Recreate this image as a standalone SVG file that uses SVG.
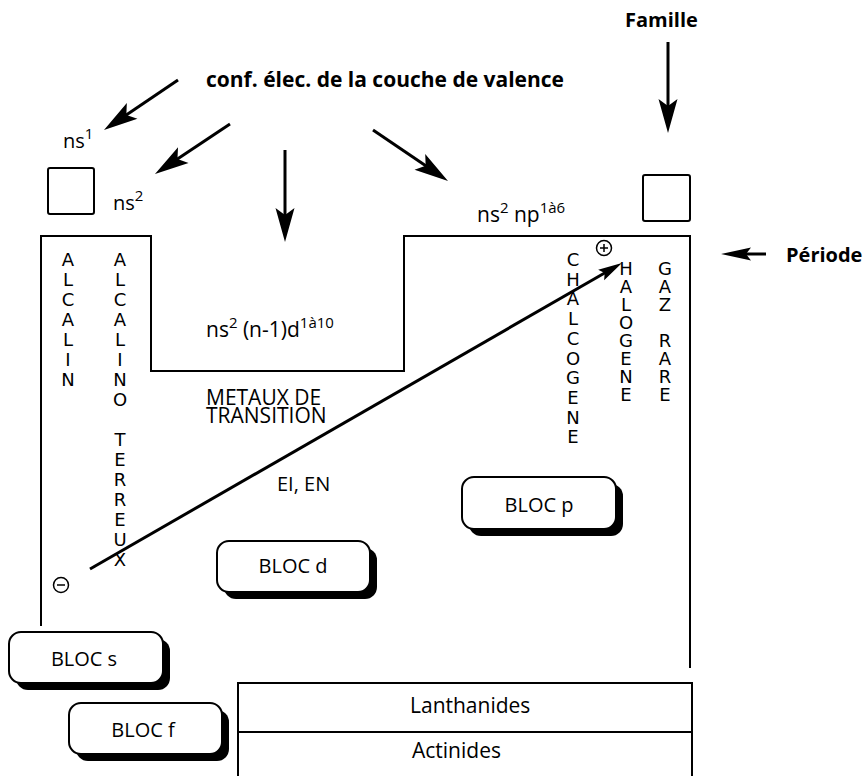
<svg xmlns="http://www.w3.org/2000/svg" width="865" height="776" viewBox="0 0 865 776">
<style>
.t{font-family:"Open Sans","Liberation Sans",sans-serif;font-size:20px;fill:#000}
.b{font-weight:bold}
.v{font-family:"DejaVu Sans",sans-serif;font-size:18px;fill:#000;text-anchor:middle}
.ln{fill:none;stroke:#000;stroke-width:2}
.ar{fill:none;stroke:#000;stroke-width:3}
.box{fill:#fff;stroke:#000;stroke-width:2}
.sh{fill:#000}
.sup{font-size:15px}
.big{font-size:21px}
.c{text-anchor:middle}
</style>
<defs>
<marker id="ah" markerUnits="userSpaceOnUse" viewBox="-14 -11 40 22" markerWidth="40" markerHeight="22" refX="0" refY="0" orient="auto">
<path d="M22,0 L-12,-9.5 L-5,0 L-12,9.5 Z" fill="#000"/>
</marker>
<marker id="ahs" markerUnits="userSpaceOnUse" viewBox="-12 -10 36 20" markerWidth="36" markerHeight="20" refX="0" refY="0" orient="auto">
<path d="M22,0 L-8,-6.5 L-3,0 L-8,6.5 Z" fill="#000"/>
</marker>
<marker id="ahd" markerUnits="userSpaceOnUse" viewBox="-10 -8 28 16" markerWidth="28" markerHeight="16" refX="0" refY="0" orient="auto">
<path d="M16,0 L-8,-6 L-4,0 L-8,6 Z" fill="#000"/>
</marker>
</defs>
<rect width="865" height="776" fill="#fff"/>

<g id="table">
<path class="ln" d="M41,626 L41,236 L151,236 L151,371 L404,371 L404,236 L690,236 L690,668"/>
</g>

<g id="square-left"><rect class="ln" x="48" y="168" width="46" height="46" rx="2"/></g>
<g id="square-right"><rect class="ln" x="643" y="175" width="47" height="46" rx="2"/></g>

<g id="title"><text class="t b big" x="206" y="87">conf. élec. de la couche de valence</text></g>
<g id="famille"><text class="t b" x="625" y="27">Famille</text></g>
<g id="periode"><text class="t b" x="786" y="262">Période</text></g>

<g id="ns1"><text class="t" x="63" y="148">ns<tspan class="sup" dy="-9">1</tspan></text></g>
<g id="ns2"><text class="t" x="113" y="210">ns<tspan class="sup" dy="-9">2</tspan></text></g>
<g id="nsnp"><text class="t big" x="477" y="222">ns<tspan class="sup" dy="-9">2</tspan><tspan dy="9"> np</tspan><tspan class="sup" dy="-9">1à6</tspan></text></g>
<g id="nsd"><text class="t big" x="206" y="337">ns<tspan class="sup" dy="-9">2</tspan><tspan dy="9"> (n-1)d</tspan><tspan class="sup" dy="-9">1à10</tspan></text></g>

<g id="alcalin"><text class="v" x="68" y="266"><tspan x="68">A</tspan><tspan x="68" dy="20">L</tspan><tspan x="68" dy="20">C</tspan><tspan x="68" dy="20">A</tspan><tspan x="68" dy="20">L</tspan><tspan x="68" dy="20">I</tspan><tspan x="68" dy="20">N</tspan></text></g>
<g id="alcalino-terreux"><text class="v" x="120" y="266"><tspan x="120">A</tspan><tspan x="120" dy="20">L</tspan><tspan x="120" dy="20">C</tspan><tspan x="120" dy="20">A</tspan><tspan x="120" dy="20">L</tspan><tspan x="120" dy="20">I</tspan><tspan x="120" dy="20">N</tspan><tspan x="120" dy="20">O</tspan><tspan x="120" dy="40">T</tspan><tspan x="120" dy="20">E</tspan><tspan x="120" dy="20">R</tspan><tspan x="120" dy="20">R</tspan><tspan x="120" dy="20">E</tspan><tspan x="120" dy="20">U</tspan><tspan x="120" dy="20">X</tspan></text></g>
<g id="chalcogene"><text class="v" x="573" y="266"><tspan x="573">C</tspan><tspan x="573" dy="19.7">H</tspan><tspan x="573" dy="19.7">A</tspan><tspan x="573" dy="19.7">L</tspan><tspan x="573" dy="19.7">C</tspan><tspan x="573" dy="19.7">O</tspan><tspan x="573" dy="19.7">G</tspan><tspan x="573" dy="19.7">E</tspan><tspan x="573" dy="19.7">N</tspan><tspan x="573" dy="19.7">E</tspan></text></g>
<g id="halogene"><text class="v" x="626" y="275"><tspan x="626">H</tspan><tspan x="626" dy="18">A</tspan><tspan x="626" dy="18">L</tspan><tspan x="626" dy="18">O</tspan><tspan x="626" dy="18">G</tspan><tspan x="626" dy="18">E</tspan><tspan x="626" dy="18">N</tspan><tspan x="626" dy="18">E</tspan></text></g>
<g id="gaz-rare"><text class="v" x="665" y="275"><tspan x="665">G</tspan><tspan x="665" dy="18">A</tspan><tspan x="665" dy="18">Z</tspan><tspan x="665" dy="36">R</tspan><tspan x="665" dy="18">A</tspan><tspan x="665" dy="18">R</tspan><tspan x="665" dy="18">E</tspan></text></g>

<g id="metaux"><text class="t big" x="206" y="405">METAUX DE</text><text class="t big" x="206" y="423">TRANSITION</text></g>
<g id="ei-en"><text class="t" x="277" y="491">EI, EN</text></g>

<g id="plus"><circle cx="604" cy="248" r="7.5" fill="#fff" stroke="#000" stroke-width="1.5"/><path d="M600,248 H608 M604,244 V252" stroke="#000" stroke-width="1.5"/></g>
<g id="minus"><circle cx="61" cy="585" r="7.5" fill="#fff" stroke="#000" stroke-width="1.5"/><path d="M57,585 H65" stroke="#000" stroke-width="1.5"/></g>

<g id="connectors">
<line class="ar" x1="178" y1="80" x2="122.2" y2="117.7" marker-end="url(#ah)"/>
<line class="ar" x1="230" y1="124" x2="173.3" y2="161.8" marker-end="url(#ah)"/>
<line class="ar" x1="285" y1="150" x2="285" y2="220" marker-end="url(#ah)"/>
<line class="ar" x1="373" y1="130" x2="429.8" y2="168.6" marker-end="url(#ah)"/>
<line class="ar" x1="668" y1="42" x2="668" y2="111" marker-end="url(#ah)"/>
<line class="ar" x1="766" y1="254" x2="743" y2="254" marker-end="url(#ahs)"/>
<line class="ar" x1="90" y1="569" x2="608.1" y2="271" marker-end="url(#ahd)"/>
</g>

<g id="bloc-d"><rect class="sh" x="224" y="548" width="153" height="51" rx="12"/><rect class="box" x="217" y="541" width="153" height="51" rx="12"/><text class="t c" x="293" y="573">BLOC d</text></g>
<g id="bloc-p"><rect class="sh" x="469" y="484" width="154" height="52" rx="12"/><rect class="box" x="462" y="477" width="154" height="52" rx="12"/><text class="t c" x="539" y="512">BLOC p</text></g>
<g id="bloc-s"><rect class="sh" x="16" y="639" width="154" height="51" rx="12"/><rect class="box" x="9" y="632" width="154" height="51" rx="12"/><text class="t c" x="84" y="666">BLOC s</text></g>
<g id="bloc-f"><rect class="sh" x="76" y="710" width="153" height="51" rx="12"/><rect class="box" x="69" y="703" width="153" height="51" rx="12"/><text class="t c" x="143" y="737">BLOC f</text></g>

<g id="lanthanides-actinides">
<path class="ln" d="M238,776 L238,683 L692,683 L692,776 M238,732 L692,732"/>
<text class="t big" x="410" y="713">Lanthanides</text>
<text class="t big" x="412" y="758">Actinides</text>
</g>
</svg>
